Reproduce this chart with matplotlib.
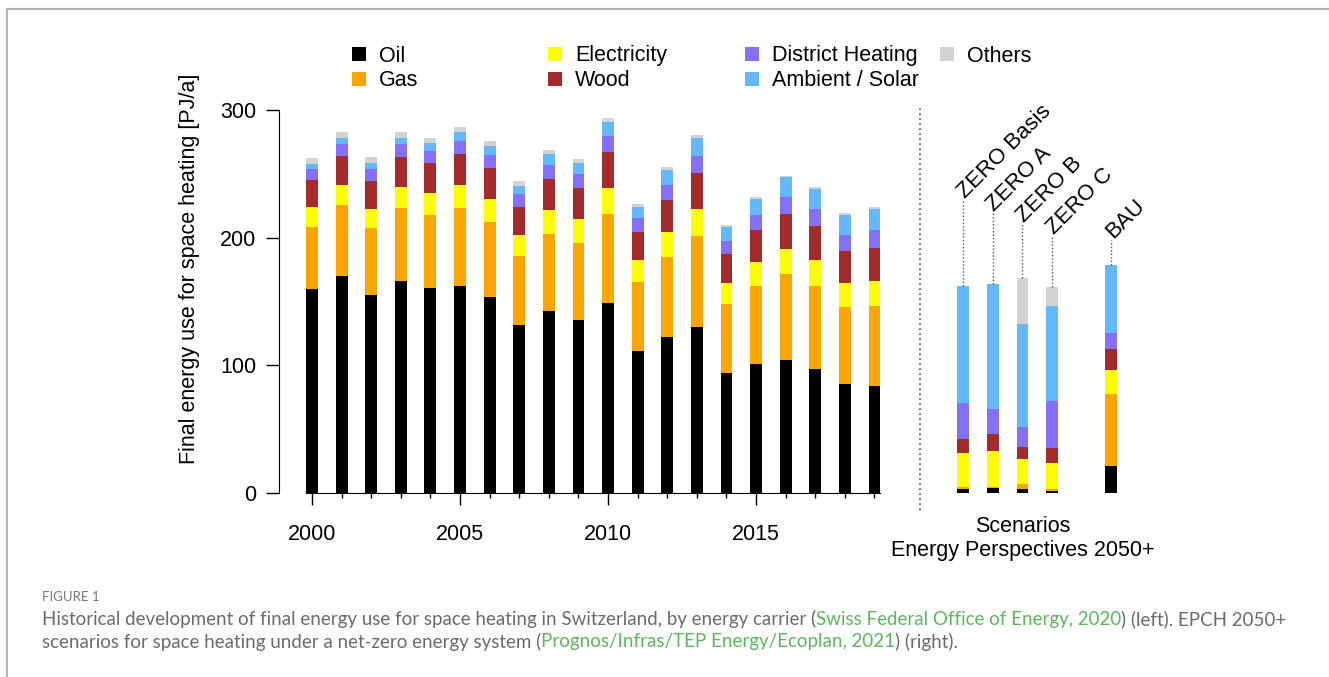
import numpy as np
import matplotlib.pyplot as plt
from matplotlib.lines import Line2D
from matplotlib.patches import Rectangle

plt.rcParams['font.family'] = ['Liberation Sans', 'DejaVu Sans']

# historical space heating demand by carrier [PJ/a]
years = np.arange(2000, 2020)
oil = [159.5, 170.2, 155.3, 166.0, 160.6, 162.1, 153.3, 131.8, 142.6, 135.5,
       149.1, 111.0, 122.0, 129.8, 93.7, 100.8, 104.4, 96.9, 85.1, 84.1]
gas = [49.1, 55.1, 52.3, 57.0, 57.1, 60.9, 59.2, 54.1, 60.5, 60.6,
       69.2, 54.5, 63.1, 71.3, 54.3, 61.3, 66.9, 65.5, 60.8, 62.6]
electricity = [15.2, 15.9, 15.1, 16.7, 17.0, 18.0, 17.8, 16.4, 18.3, 18.3,
               20.8, 16.7, 19.1, 21.3, 16.5, 18.6, 19.8, 19.8, 18.3, 19.1]
wood = [21.4, 23.0, 21.7, 23.5, 23.5, 24.5, 24.0, 22.0, 24.8, 24.7,
        28.3, 22.5, 25.5, 28.5, 22.5, 25.3, 27.7, 26.7, 25.6, 26.3]
district = [8.6, 9.4, 9.4, 9.9, 9.7, 10.5, 10.4, 9.6, 10.7, 10.8,
            12.2, 10.5, 11.8, 13.3, 10.4, 11.5, 13.3, 13.5, 12.5, 13.9]
ambient = [3.9, 4.7, 4.4, 5.2, 6.0, 6.8, 7.3, 6.8, 8.4, 8.8,
           11.2, 9.1, 11.7, 14.1, 11.2, 13.0, 15.2, 15.7, 15.7, 16.4]
others = [5.0, 4.7, 4.7, 4.2, 4.2, 4.1, 3.7, 3.7, 3.4, 3.2,
          3.2, 2.3, 2.1, 2.4, 1.3, 1.6, 1.2, 1.3, 1.3, 1.6]

# EP2050+ scenarios
scenarios = ['ZERO Basis', 'ZERO A', 'ZERO B', 'ZERO C', 'BAU']
sc_oil = [3.1, 3.6, 3.1, 1.6, 21.4]
sc_gas = [1.9, 0.8, 3.9, 1.2, 55.9]
sc_electricity = [26.1, 28.8, 19.9, 20.4, 19.0]
sc_wood = [10.9, 13.3, 9.4, 12.3, 16.2]
sc_district = [28.3, 19.5, 15.6, 36.6, 12.8]
sc_ambient = [91.8, 97.4, 80.2, 74.1, 53.0]
sc_others = [0, 0, 36.3, 14.9, 0]
sc_label_y = [229.5, 219, 210.7, 200.8, 198]

carriers = ['Oil', 'Gas', 'Electricity', 'Wood', 'District Heating',
            'Ambient / Solar', 'Others']
colors = ['#000000', '#FFA500', '#FFFF00', '#A52A2A', '#8470FF',
          '#63B8FF', '#D3D3D3']

W, H = 1329, 677
fig = plt.figure(figsize=(W / 100, H / 100), dpi=100)

# axes placed so that 0..300 spans y px 493..110
x0, x1 = 1998.885, 2027.97
ax = fig.add_axes([279 / W, 1 - 493 / H, 861 / W, 383 / H])
ax.set_xlim(x0, x1)
ax.set_ylim(0, 300)

width = 0.4
hist = [oil, gas, electricity, wood, district, ambient, others]
bottom = np.zeros(len(years))
for vals, c in zip(hist, colors):
    ax.bar(years, vals, width, bottom=bottom, color=c, linewidth=0)
    bottom += np.array(vals)

sc_x = np.array([2022, 2023, 2024, 2025, 2027])
scen = [sc_oil, sc_gas, sc_electricity, sc_wood, sc_district, sc_ambient, sc_others]
sbottom = np.zeros(len(sc_x))
for vals, c in zip(scen, colors):
    ax.bar(sc_x, vals, width, bottom=sbottom, color=c, linewidth=0)
    sbottom += np.array(vals)

# dotted leader lines + rotated scenario labels
for x, top, ly, name in zip(sc_x, sbottom, sc_label_y, scenarios):
    ax.plot([x, x], [top, ly], ls=(0, (1, 1.5)), color='#555555', lw=1, clip_on=False)
    ax.text(x + 0.05, ly + 1, name, rotation=45, rotation_mode='anchor', ha='left',
            va='baseline', fontsize=16, clip_on=False)

# separator between history and scenarios
ax.plot([2020.54, 2020.54], [-13.3, 303.9], ls=(0, (1, 2)), color='#555555',
        lw=1.2, clip_on=False)

ax.text(2024, -18.2, 'Scenarios\nEnergy Perspectives 2050+', ha='center', va='top',
        fontsize=15.5, linespacing=1.15)

# axes styling, R-like
for s in ['top', 'right']:
    ax.spines[s].set_visible(False)
ax.spines['bottom'].set_bounds(2000 - width / 2, 2019 + width / 2)
ax.spines['left'].set_bounds(0, 300)
ax.set_yticks([0, 100, 200, 300])
ax.tick_params(axis='y', length=9.5, width=1, labelsize=15.5, pad=7)
ax.set_xticks([2000, 2005, 2010, 2015])
ax.set_xticks(years, minor=True)
ax.tick_params(axis='x', which='major', length=8.5, width=1, labelsize=15.5, pad=14)
ax.tick_params(axis='x', which='minor', length=3.5, width=1)

fig.text(190 / W, 1 - 269 / H, 'Final energy use for space heating [PJ/a]',
         rotation=90, ha='center', va='center', fontsize=15.5)

# legend in 4 columns, 2 rows
col_x = [352, 548, 745, 940]
row_y = [54, 79]
for i, (lab, c) in enumerate(zip(carriers, colors)):
    cx = col_x[i // 2]
    cy = row_y[i % 2]
    fig.add_artist(Rectangle((cx / W, 1 - (cy + 7) / H), 14 / W, 14 / H,
                             transform=fig.transFigure, color=c, lw=0))
    fig.text((cx + 27) / W, 1 - (cy + 7.5) / H, lab, ha='left', va='baseline',
             fontsize=15.5)

# page frame
fig.add_artist(Line2D([7 / W, 1], [1 - 9 / H] * 2, color='#b4b4b4', lw=1.5))
fig.add_artist(Line2D([7 / W, 7 / W], [0, 1 - 9 / H], color='#b4b4b4', lw=1.5))

# caption
cap_font = ['Lato', 'DejaVu Sans']
gray = '#6b6b6b'
green = '#5cb85c'
fig.text(42 / W, 1 - 597 / H, 'FIGURE 1', fontsize=9.5, color='#777777',
         family=cap_font, va='center')

renderer = fig.canvas.get_renderer()


def draw_pieces(x_px, y_px, pieces):
    x = x_px
    for txt, col in pieces:
        t = fig.text(x / W, 1 - y_px / H, txt, color=col, fontsize=13.5,
                     family=cap_font, va='center')
        x = t.get_window_extent(renderer).x1


draw_pieces(42, 619, [
    ('Historical development of final energy use for space heating in Switzerland, '
     'by energy carrier (', gray),
    ('Swiss Federal Office of Energy, 2020', green),
    (') (left). EPCH 2050+', gray)])
draw_pieces(42, 642, [
    ('scenarios for space heating under a net-zero energy system (', gray),
    ('Prognos/Infras/TEP Energy/Ecoplan, 2021', green),
    (') (right).', gray)])

fig.savefig('out.png', dpi=100)
